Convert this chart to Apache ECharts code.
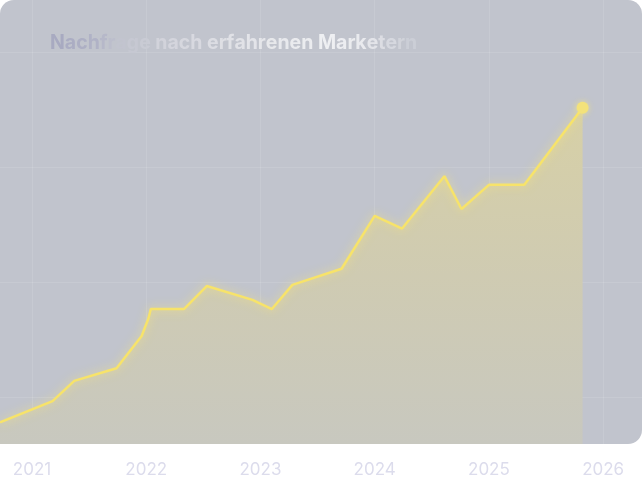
<!DOCTYPE html>
<html>
<head>
<meta charset="utf-8">
<script src="https://cdn.jsdelivr.net/npm/echarts@6/dist/echarts.min.js"></script>
<style>
    html, body{
        margin: 0;
        padding: 0;
        background: #ffffff;
    }
    .panel{
        position: absolute;
        left: 0;
        top: 0;
        width: 642px;
        height: 444px;
        border-radius: 14px;
        background: #c1c4cd;
    }
    #mychart{
        position: absolute;
        left: 0;
        top: 0;
        width: 642px;
        height: 478px;
    }
</style>
</head>
<body>
<div class="panel"></div>
<div id="mychart"></div>
<script>
    // Nachfrage-Index, x = Jahr (dezimal), y = Indexwert
    var years = [2020.72, 2021.18, 2021.37, 2021.74, 2021.96, 2022.02, 2022.04, 2022.33, 2022.53, 2022.93,
                 2023.10, 2023.28, 2023.71, 2024.00, 2024.24, 2024.61, 2024.76, 2025.00, 2025.31, 2025.82];
    var demand = [15.6, 19.3, 22.8, 25.0, 30.6, 33.7, 35.3, 35.3, 39.3, 36.9,
                  35.3, 39.5, 42.3, 51.5, 49.3, 58.4, 52.7, 56.9, 56.9, 70.3];
    var yearTicks = [2021, 2022, 2023, 2024, 2025, 2026];
    var valueTicks = [20, 40, 60, 80];
    var titleText = 'Nachfrage nach erfahrenen Marketern';

    // Schimmer-Verlauf fuer den Titel (Zeichenindex -> Farbe)
    var titleStops = [
        [0, [168, 170, 193]], [3, [176, 178, 198]], [6, [194, 196, 207]], [8, [201, 203, 212]],
        [10, [210, 211, 219]], [15, [220, 221, 227]], [20, [229, 230, 234]], [26, [238, 239, 242]],
        [29, [233, 234, 238]], [31, [220, 221, 227]], [34, [203, 206, 214]]
    ];
    function stopColor(i){
        for (var k = 0; k < titleStops.length - 1; k++) {
            var a = titleStops[k], b = titleStops[k + 1];
            if (i >= a[0] && i <= b[0]) {
                var t = (i - a[0]) / (b[0] - a[0]);
                var c = [0, 1, 2].map(function(j){ return Math.round(a[1][j] + (b[1][j] - a[1][j]) * t); });
                return 'rgb(' + c.join(',') + ')';
            }
        }
        return 'rgb(203,206,214)';
    }
    var rich = {};
    var richText = '';
    for (var i = 0; i < titleText.length; i++) {
        var ch = titleText.charAt(i);
        rich['c' + i] = {
            color: stopColor(i),
            fontSize: 19.5,
            fontWeight: 700,
            fontFamily: 'Inter'
        };
        richText += '{c' + i + '|' + ch + '}';
    }

    var seriesData = [];
    for (var j = 0; j < years.length; j++) {
        if (j === years.length - 1) {
            seriesData.push({
                value: [years[j], demand[j]],
                symbol: 'circle',
                symbolSize: 12,
                itemStyle: {color: '#f3e27a', shadowBlur: 6, shadowColor: 'rgba(255,235,110,0.6)'}
            });
        } else {
            seriesData.push([years[j], demand[j]]);
        }
    }

    var mychart = echarts.init(document.getElementById('mychart'));
    var option = {
        backgroundColor: 'transparent',
        animation: false,
        title: {
            text: richText,
            left: 50,
            top: 33,
            padding: 0,
            z: 10,
            textStyle: {
                fontSize: 19.5,
                fontWeight: 700,
                fontFamily: 'Inter',
                rich: rich
            }
        },
        grid: {
            left: 0,
            right: 0,
            top: 0,
            bottom: 34,
            containLabel: false
        },
        xAxis: {
            type: 'value',
            min: 2020.72,
            max: 2026.34,
            z: 0,
            axisLine: {show: false},
            axisTick: {show: false, customValues: yearTicks},
            axisLabel: {
                customValues: yearTicks,
                margin: 17,
                color: '#dcdcec',
                fontSize: 17,
                fontFamily: 'Inter',
                formatter: function(v){ return String(Math.round(v)); }
            },
            splitLine: {
                show: true,
                lineStyle: {color: 'rgba(255,255,255,0.11)', width: 1}
            }
        },
        yAxis: {
            type: 'value',
            min: 11.83,
            max: 89.04,
            z: 0,
            axisLine: {show: false},
            axisTick: {show: false, customValues: valueTicks},
            axisLabel: {show: false},
            splitLine: {
                show: true,
                lineStyle: {color: 'rgba(255,255,255,0.11)', width: 1}
            }
        },
        series: [
            {
                name: 'Nachfrage',
                type: 'line',
                z: 5,
                data: seriesData,
                symbol: 'none',
                showSymbol: true,
                lineStyle: {
                    color: '#f7e36a',
                    width: 2.5,
                    shadowBlur: 10,
                    shadowColor: 'rgba(255,235,110,0.75)'
                },
                areaStyle: {
                    opacity: 1,
                    color: new echarts.graphic.LinearGradient(0, 0, 0, 1, [
                        {offset: 0, color: '#d7d0a6'},
                        {offset: 0.5, color: '#cfcbb2'},
                        {offset: 1, color: '#c8c8bf'}
                    ])
                }
            }
        ]
    };
    mychart.setOption(option);
</script>
</body>
</html>
